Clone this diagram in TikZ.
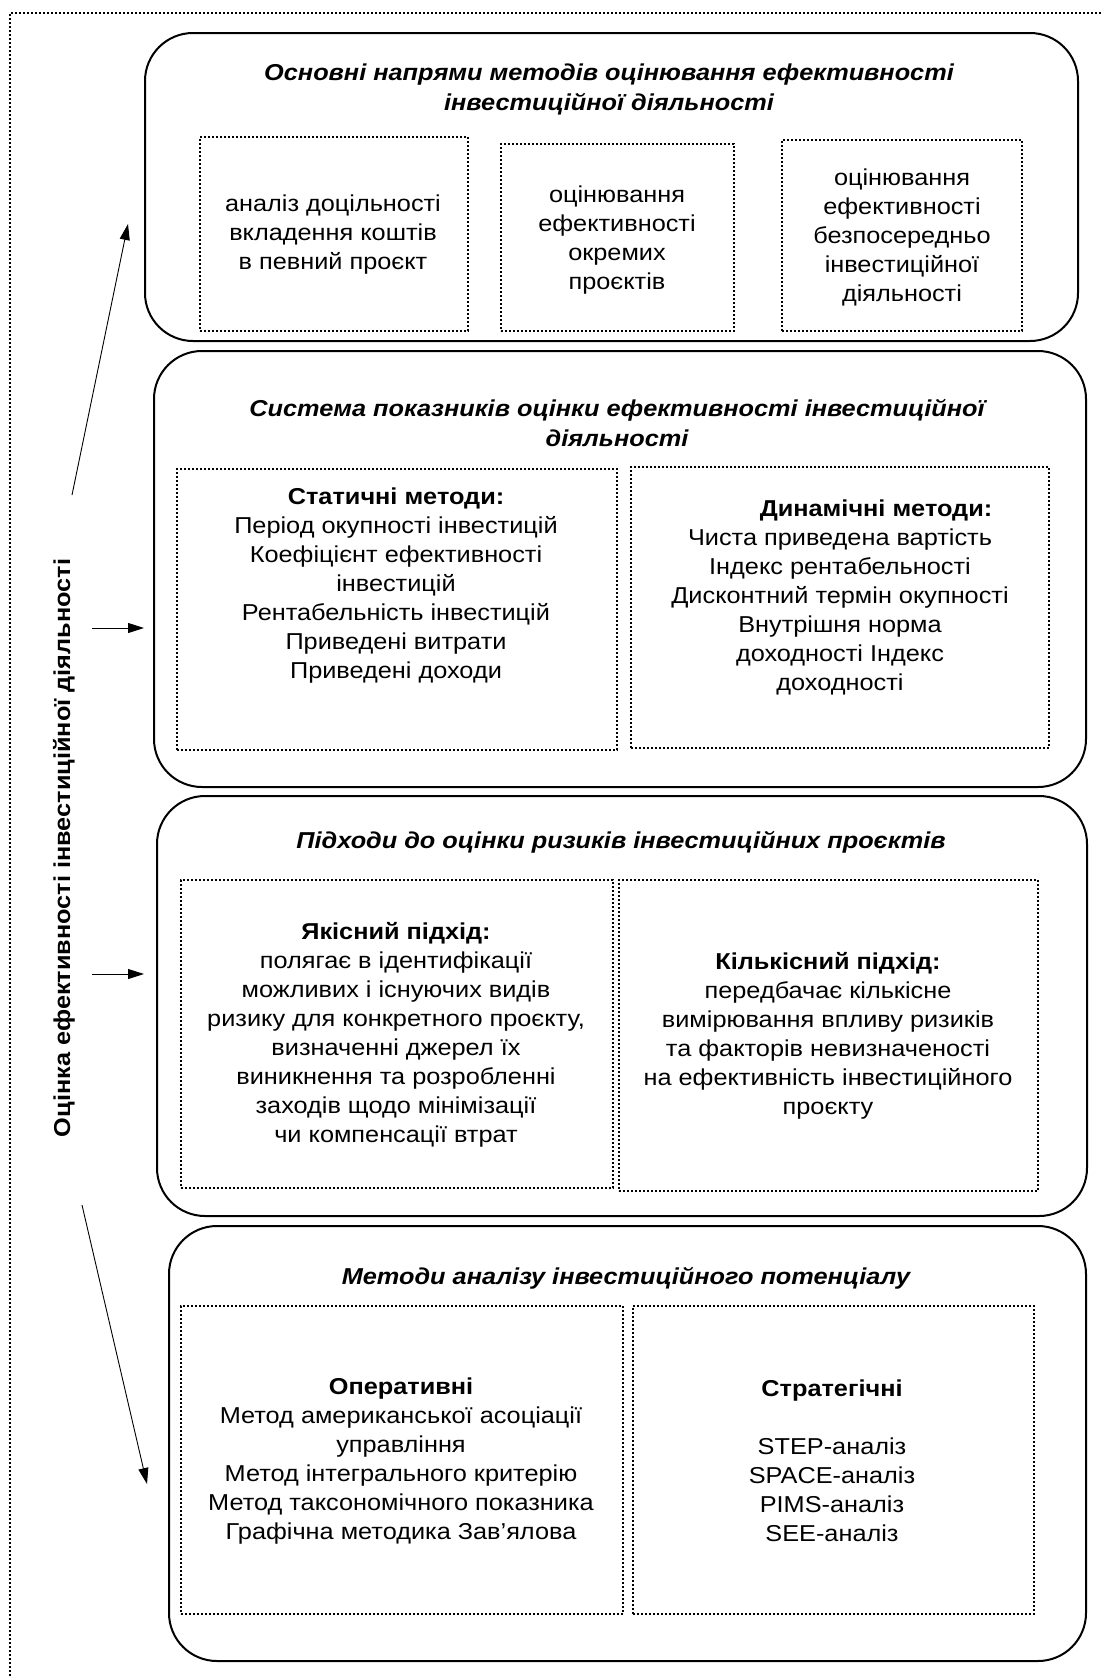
\documentclass[tikz,border=0pt]{standalone}
\usepackage{fontspec}
\setmainfont{Liberation Sans}[FakeStretch=1.1]
\usetikzlibrary{arrows.meta}
\begin{document}
\begin{tikzpicture}[x=1pt,y=-1pt,
  bigbox/.style={draw, line width=2pt, rounded corners=48pt, anchor=north west, inner sep=0pt},
  dotbox/.style={draw, line width=1.8pt, dash pattern=on 1.8pt off 2.2pt, anchor=north west, inner sep=0pt},
  dotline/.style={line width=1.8pt, dash pattern=on 1.8pt off 2.2pt},
  body/.style={align=center, font=\fontsize{23}{29}\selectfont, inner sep=0pt},
  ttl/.style={align=center, font=\fontsize{23}{30}\selectfont\bfseries\itshape, inner sep=0pt},
  arr/.style={line width=0.9pt, -{Triangle[length=16pt,width=10pt]}}]
\useasboundingbox (0,0) rectangle (1103,1676);
% outer frame
\draw[dotline] (10,1676) -- (10,13) -- (1103,13);
% box 1
\node[bigbox, minimum width=933pt, minimum height=308pt] (b1) at (144,32) {};
\node[ttl] (t1) at (609,89) {Основні напрями методів оцінювання ефективності\\інвестиційної діяльності};
\node[dotbox, minimum width=268pt, minimum height=194pt] (b1a) at (199,136) {};
\node[dotbox, minimum width=233pt, minimum height=187pt] (b1b) at (500,143) {};
\node[dotbox, minimum width=240pt, minimum height=191pt] (b1c) at (781,139) {};
\node[body] (t1a) at (333,235) {аналіз доцільності\\вкладення коштів\\в певний проєкт};
\node[body] (t1b) at (617,240) {оцінювання\\ефективності\\окремих\\проєктів};
\node[body] (t1c) at (902,237) {оцінювання\\ефективності\\безпосередньо\\інвестиційної\\діяльності};
% box 2
\node[bigbox, minimum width=932pt, minimum height=436pt] (b2) at (153,350) {};
\node[ttl] (t2) at (617,423) {Система показників оцінки ефективності інвестиційної\\діяльності};
\node[dotbox, minimum width=440pt, minimum height=281pt] (b2a) at (176,468) {};
\node[dotbox, minimum width=418pt, minimum height=281pt] (b2b) at (630,466) {};
\node[body] (t2a) at (396,586) {\textbf{Статичні методи:}\\Період окупності інвестицій\\Коефіцієнт ефективності\\інвестицій\\Рентабельність інвестицій\\Приведені витрати\\Приведені доходи};
\node[body] (t2b) at (840,597) {\hspace*{72pt}\textbf{Динамічні методи:}\\Чиста приведена вартість\\Індекс рентабельності\\Дисконтний термін окупності\\Внутрішня норма\\доходності Індекс\\доходності};
% box 3
\node[bigbox, minimum width=930pt, minimum height=420pt] (b3) at (156,795) {};
\node[ttl] (t3) at (621,842) {Підходи до оцінки ризиків інвестиційних проєктів};
\node[dotbox, minimum width=432pt, minimum height=308pt] (b3a) at (180,879) {};
\node[dotbox, minimum width=419pt, minimum height=311pt] (b3b) at (618,879) {};
\node[body] (t3a) at (396,1035) {\textbf{Якісний підхід:}\\полягає в ідентифікації\\можливих і існуючих видів\\ризику для конкретного проєкту,\\визначенні джерел їх\\виникнення та розробленні\\заходів щодо мінімізації\\чи компенсації втрат};
\node[body] (t3b) at (828,1036) {\textbf{Кількісний підхід:}\\передбачає кількісне\\вимірювання впливу ризиків\\та факторів невизначеності\\на ефективність інвестиційного\\проєкту};
% box 4
\node[bigbox, minimum width=917pt, minimum height=435pt] (b4) at (168,1225) {};
\node[ttl] (t4) at (626,1278) {Методи аналізу інвестиційного потенціалу};
\node[dotbox, minimum width=442pt, minimum height=308pt] (b4a) at (180,1305) {};
\node[dotbox, minimum width=401pt, minimum height=308pt] (b4b) at (632,1305) {};
\node[body] (t4a) at (401,1461) {\textbf{Оперативні}\\Метод американської асоціації\\управління\\Метод інтегрального критерію\\Метод таксономічного показника\\Графічна методика Зав’ялова};
\node[body] (t4b) at (832,1461) {\textbf{Стратегічні}\\[29pt]STEP-аналіз\\SPACE-аналіз\\PIMS-аналіз\\SEE-аналіз};
% side label
\node[rotate=90, inner sep=0pt, font=\fontsize{23}{26}\selectfont\bfseries] (lab) at (64,848) {Оцінка ефективності інвестиційної діяльності};
% arrows
\coordinate (a1s) at (72,495);
\coordinate (a1e) at (128,224);
\coordinate (a2s) at (92,628);
\coordinate (a2e) at (144,628);
\coordinate (a3s) at (92,974);
\coordinate (a3e) at (144,974);
\coordinate (a4s) at (82,1205);
\coordinate (a4e) at (147,1484);
\draw[arr] (a1s) -- (a1e);
\draw[arr] (a2s) -- (a2e);
\draw[arr] (a3s) -- (a3e);
\draw[arr] (a4s) -- (a4e);
\end{tikzpicture}
\end{document}
